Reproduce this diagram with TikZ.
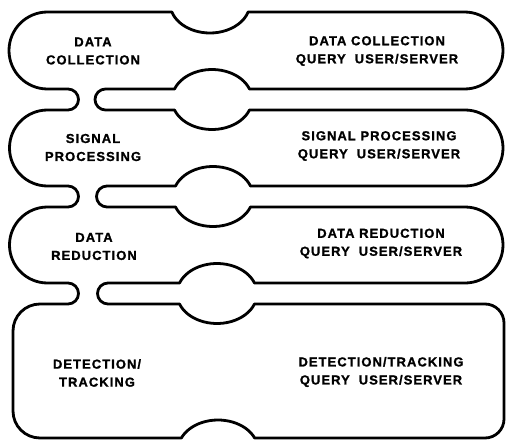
\documentclass[tikz,border=0pt]{standalone}
\usepackage{fontspec}
\newfontfamily\lbl[LetterSpace=8,BoldFeatures={FakeBold=1.2}]{Liberation Sans}
\begin{document}
\begin{tikzpicture}[x=1pt,y=-1pt,
  outline/.style={draw=black,line width=2.8pt,line join=round,line cap=round},
  lab/.style={font=\lbl\bfseries\fontsize{13}{18}\selectfont,align=center,inner sep=0pt}]
\fill[white] (0,0) rectangle (508,441);
\useasboundingbox (0,0) rectangle (508,441);
\draw[outline] (47.5,12) -- (171.84,12)
 arc[start angle=162.54,end angle=17.46,x radius=40,y radius=30]
 -- (464.5,12) arc[start angle=-90,end angle=90,radius=38.5]
 -- (249.47,89) arc[start angle=-20.49,end angle=-159.51,x radius=40,y radius=30]
 -- (105.5,89) arc[start angle=270,end angle=90,radius=10.5]
 -- (174.53,110) arc[start angle=159.51,end angle=20.49,x radius=40,y radius=30]
 -- (465,110) arc[start angle=-90,end angle=90,radius=38]
 -- (250.47,186) arc[start angle=-20.49,end angle=-159.51,x radius=40,y radius=30]
 -- (107,186) arc[start angle=270,end angle=90,radius=10.5]
 -- (175.53,207) arc[start angle=159.51,end angle=20.49,x radius=40,y radius=30]
 -- (465,207) arc[start angle=-90,end angle=90,radius=38]
 -- (254.47,283) arc[start angle=-20.49,end angle=-159.51,x radius=40,y radius=30]
 -- (108,283) arc[start angle=270,end angle=90,radius=10.5]
 -- (179.53,304) arc[start angle=159.51,end angle=20.49,x radius=40,y radius=30]
 -- (485,304) arc[start angle=-90,end angle=0,radius=19]
 -- (504,419) arc[start angle=0,end angle=90,radius=19]
 -- (254.66,438) arc[start angle=-23.58,end angle=-156.42,x radius=40,y radius=30]
 -- (40,438) arc[start angle=90,end angle=180,radius=27]
 -- (13,331) arc[start angle=180,end angle=270,radius=27]
 -- (68,304) arc[start angle=90,end angle=-90,radius=10.5]
 -- (47.5,283) arc[start angle=90,end angle=270,radius=38]
 -- (68,207) arc[start angle=90,end angle=-90,radius=10.5]
 -- (47.5,186) arc[start angle=90,end angle=270,radius=38]
 -- (68,110) arc[start angle=90,end angle=-90,radius=10.5]
 -- (47.5,89) arc[start angle=90,end angle=270,radius=38.5]
 -- cycle;
\node[lab] (l1) at (93,51) {DATA\\COLLECTION};
\node[lab] (r1) at (377,51) {DATA COLLECTION\\QUERY\hspace{9pt}USER/SERVER};
\node[lab] (l2) at (93,147.5) {SIGNAL\\PROCESSING};
\node[lab] (r2) at (379,146) {SIGNAL PROCESSING\\QUERY\hspace{9pt}USER/SERVER};
\node[lab] (l3) at (94,246.5) {DATA\\REDUCTION};
\node[lab] (r3) at (381,243.5) {DATA REDUCTION\\QUERY\hspace{9pt}USER/SERVER};
\node[lab] (l4) at (97,373) {DETECTION/\\TRACKING};
\node[lab] (r4) at (381,372) {DETECTION/TRACKING\\QUERY\hspace{9pt}USER/SERVER};
\end{tikzpicture}
\end{document}
